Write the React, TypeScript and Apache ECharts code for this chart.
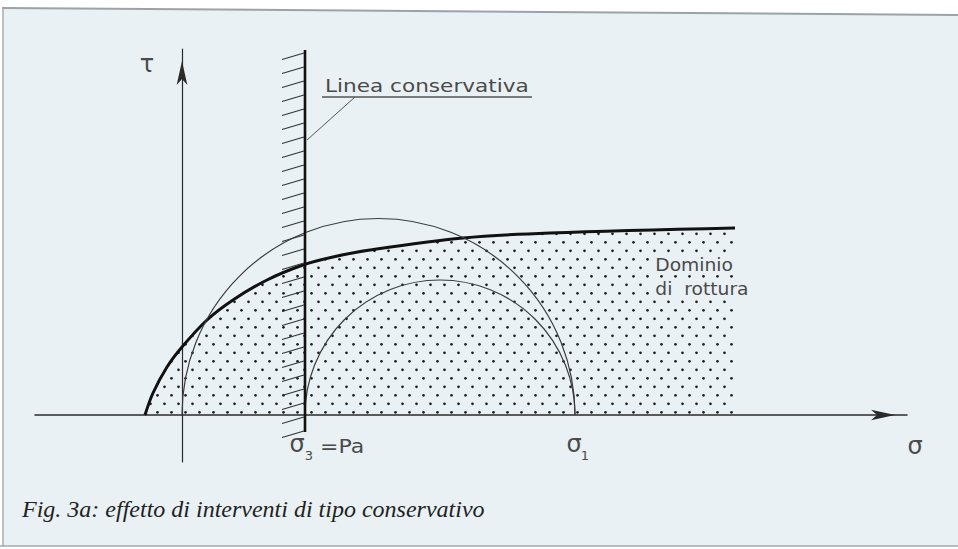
import React, { useEffect, useRef } from "react";
import * as echarts from "echarts";

// Failure envelope (Mohr–Coulomb "Dominio di rottura"), sigma vs tau (units = 1/10 px of original drawing)
const envelopeSigma = [-3.7, -2.9, -1.5, 0, 2.5, 5.1, 8.5, 12.1, 15.1, 18.8, 28.1, 36.8, 55.3];
const envelopeTau = [0, 2.2, 4.8, 6.8, 9.5, 11.5, 13.5, 15.0, 15.8, 16.5, 17.7, 18.2, 18.7];

// Mohr circles: [sigma3, sigma1]
const circleSigma3 = [0, 12.3];
const circleSigma1 = [39.3, 39.3];

// Conservative line: sigma3 = Pa, from tau top to tau bottom
const conservSigma = [12.3];
const conservTauTop = [36.5];
const conservTauBottom = [-1.7];

const sigmaMin = -14.7;
const sigmaMax = 72.5;
const tauMin = -4.7;
const tauMax = 36.6;

function makeDotPattern(): HTMLCanvasElement {
  const c = document.createElement("canvas");
  c.width = 14;
  c.height = 17;
  const ctx = c.getContext("2d")!;
  ctx.fillStyle = "#1e1e1e";
  ctx.beginPath();
  ctx.arc(3.5, 4.3, 1.35, 0, Math.PI * 2);
  ctx.fill();
  ctx.beginPath();
  ctx.arc(10.5, 12.8, 1.35, 0, Math.PI * 2);
  ctx.fill();
  return c;
}

export default function App() {
  const ref = useRef<HTMLDivElement>(null);
  useEffect(() => {
    if (!ref.current) return;
    const chart = echarts.init(ref.current, undefined, { renderer: "svg" });
    const envelope = envelopeSigma.map((s, i) => [s, envelopeTau[i]]);
    const circles = circleSigma3.map((s, i) => [s, circleSigma1[i]]);
    const conserv = conservSigma.map((s, i) => [s, conservTauTop[i], conservTauBottom[i]]);
    const cad = "'DejaVu Sans', sans-serif";
    const lab = "#4a4a4a";
    const bg = "#e9f1f4";

    chart.setOption({
      animation: false,
      backgroundColor: "#ffffff",
      grid: { left: 35, right: 51, top: 49, bottom: 87, containLabel: false },
      xAxis: {
        type: "value",
        min: sigmaMin,
        max: sigmaMax,
        axisLine: {
          show: true,
          onZero: true,
          symbol: ["none", "arrow"],
          symbolSize: [8, 24],
          symbolOffset: [0, -12],
          lineStyle: { color: "#2a2a2a", width: 1.5 },
        },
        axisTick: { show: false },
        axisLabel: { show: false },
        splitLine: { show: false },
      },
      yAxis: {
        type: "value",
        min: tauMin,
        max: tauMax,
        axisLine: {
          show: true,
          onZero: true,
          symbol: ["none", "arrow"],
          symbolSize: [8, 24],
          symbolOffset: [0, -12],
          lineStyle: { color: "#2a2a2a", width: 1.2 },
        },
        axisTick: { show: false },
        axisLabel: { show: false },
        splitLine: { show: false },
      },
      series: [
        {
          type: "line",
          data: envelope,
          smooth: 0.35,
          showSymbol: false,
          symbol: "none",
          lineStyle: { color: "#111", width: 3 },
          areaStyle: { color: { image: makeDotPattern(), repeat: "repeat" }, opacity: 1 },
          z: 3,
        },
        {
          type: "custom",
          data: circles,
          encode: { x: [0, 1] },
          clip: false,
          renderItem: (params: any, api: any) => {
            const p1 = api.coord([api.value(0), 0]);
            const p2 = api.coord([api.value(1), 0]);
            return {
              type: "arc",
              shape: {
                cx: (p1[0] + p2[0]) / 2,
                cy: p1[1],
                r: (p2[0] - p1[0]) / 2,
                startAngle: Math.PI,
                endAngle: Math.PI * 2,
                clockwise: true,
              },
              style: { stroke: "#3c3c3c", lineWidth: 1.2, fill: null },
            };
          },
          z: 4,
        },
        {
          type: "custom",
          data: conserv,
          encode: { x: 0, y: [1, 2] },
          clip: false,
          renderItem: (params: any, api: any) => {
            const top = api.coord([api.value(0), api.value(1)]);
            const bot = api.coord([api.value(0), api.value(2)]);
            const children: any[] = [
              {
                type: "line",
                shape: { x1: top[0], y1: top[1], x2: bot[0], y2: bot[1] },
                style: { stroke: "#111", lineWidth: 2.6 },
              },
            ];
            for (let y = top[1] + 3; y <= bot[1] + 2; y += 14) {
              children.push({
                type: "line",
                shape: { x1: top[0] - 23, y1: y + 6.5, x2: top[0] - 1, y2: y },
                style: { stroke: "#333", lineWidth: 1.1 },
              });
            }
            return { type: "group", children };
          },
          z: 5,
        },
      ],
      graphic: [
        {
          type: "polygon",
          z: -10,
          silent: true,
          shape: { points: [[3, 8], [958, 15], [958, 546], [3, 546]] },
          style: { fill: bg },
        },
        { type: "line", z: -9, shape: { x1: 2, y1: 8, x2: 958, y2: 15 }, style: { stroke: "#9aa3a6", lineWidth: 2 } },
        { type: "line", z: -9, shape: { x1: 3, y1: 8, x2: 3, y2: 546 }, style: { stroke: "#a3abae", lineWidth: 1.5 } },
        { type: "line", z: -9, shape: { x1: 0, y1: 546, x2: 958, y2: 546 }, style: { stroke: "#a3abae", lineWidth: 1.5 } },
        // annotation: Linea conservativa
        {
          type: "text",
          x: 325,
          y: 86,
          scaleX: 1.2,
          style: { text: "Linea conservativa", font: `18px ${cad}`, fill: lab, verticalAlign: "middle", align: "left" },
        },
        { type: "line", shape: { x1: 322, y1: 97, x2: 532, y2: 97 }, style: { stroke: "#555", lineWidth: 1.5 } },
        { type: "line", shape: { x1: 355, y1: 97, x2: 307, y2: 140 }, style: { stroke: "#555", lineWidth: 1 } },
        // axis names
        { type: "text", x: 147, y: 64, style: { text: "τ", font: `24px ${cad}`, fill: lab, align: "center", verticalAlign: "middle" } },
        { type: "text", x: 915, y: 446, style: { text: "σ", font: `24px ${cad}`, fill: lab, align: "center", verticalAlign: "middle" } },
        { type: "text", x: 297, y: 444, style: { text: "σ", font: `24px ${cad}`, fill: lab, align: "center", verticalAlign: "middle" } },
        { type: "text", x: 309, y: 455, style: { text: "3", font: `13px ${cad}`, fill: lab, align: "center", verticalAlign: "middle" } },
        { type: "text", x: 320, y: 446, scaleX: 1.1, style: { text: "=Pa", font: `20px ${cad}`, fill: lab, align: "left", verticalAlign: "middle" } },
        { type: "text", x: 574, y: 444, style: { text: "σ", font: `24px ${cad}`, fill: lab, align: "center", verticalAlign: "middle" } },
        { type: "text", x: 585, y: 455, style: { text: "1", font: `13px ${cad}`, fill: lab, align: "center", verticalAlign: "middle" } },
        // domain label (drawn on a cleared patch of the dotted area)
        {
          type: "text",
          x: 652,
          y: 265,
          z: 20,
          scaleX: 1.1,
          style: {
            text: "Dominio",
            font: `17px ${cad}`,
            fill: lab,
            align: "left",
            verticalAlign: "middle",
            backgroundColor: bg,
            padding: [1, 3, 1, 3],
          },
        },
        {
          type: "text",
          x: 652,
          y: 289,
          z: 20,
          scaleX: 1.1,
          style: {
            text: "di  rottura",
            font: `17px ${cad}`,
            fill: lab,
            align: "left",
            verticalAlign: "middle",
            backgroundColor: bg,
            padding: [1, 3, 1, 3],
          },
        },
        // caption
        {
          type: "text",
          x: 22,
          y: 509,
          style: {
            text: "Fig. 3a: effetto di interventi di tipo conservativo",
            font: `italic 24px 'Liberation Serif', serif`,
            fill: "#222",
            align: "left",
            verticalAlign: "middle",
          },
        },
      ],
    });
    return () => chart.dispose();
  }, []);
  return <div ref={ref} style={{ position: "absolute", left: 0, top: 0, width: 958, height: 549 }} />;
}
